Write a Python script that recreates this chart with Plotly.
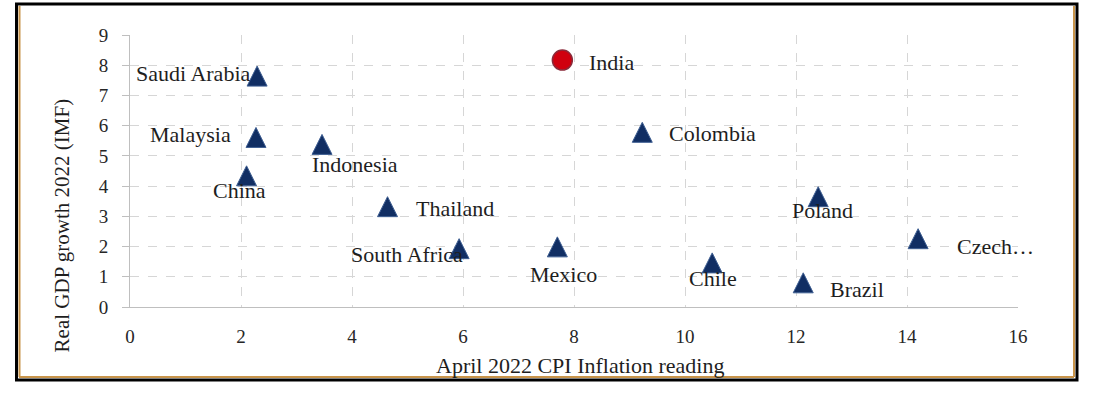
import plotly.graph_objects as go

countries = ["Saudi Arabia", "Malaysia", "Indonesia", "China", "Colombia", "Thailand",
             "Poland", "South Africa", "Mexico", "Czech…", "Chile", "Brazil"]
cpi = [2.29, 2.27, 3.46, 2.10, 9.23, 4.64, 12.40, 5.93, 7.70, 14.20, 10.49, 12.13]
gdp = [7.64, 5.61, 5.38, 4.34, 5.78, 3.32, 3.65, 1.93, 1.99, 2.26, 1.46, 0.80]

india_name = ["India"]
india_cpi = [7.79]
india_gdp = [8.17]

x_ticks = [0, 2, 4, 6, 8, 10, 12, 14, 16]
y_ticks = [0, 1, 2, 3, 4, 5, 6, 7, 8, 9]

FONT = "Liberation Serif, Times New Roman, serif"

# label placement (anchor, xshift, yshift) -- styling only
label_style = {
    "Saudi Arabia": ("right", -5, 3),
    "Malaysia": ("right", -23, 3),
    "Indonesia": ("left", -12, -20),
    "China": ("center", -7, -15),
    "India": ("left", 25, -2),
    "Colombia": ("left", 25, -1),
    "Thailand": ("left", 26, -2),
    "Poland": ("center", 4, -14),
    "South Africa": ("right", 6, -6),
    "Mexico": ("center", 6, -28),
    "Czech…": ("left", 37, -8),
    "Chile": ("center", 1, -16),
    "Brazil": ("left", 25, -7),
}

fig = go.Figure()
fig.add_trace(go.Scatter(
    x=cpi, y=gdp, mode="markers", hoverinfo="text", text=countries,
    marker=dict(symbol="arrow-down", angle=180, standoff=10, size=20,
                color="#112E63", line=dict(color="#3F5F92", width=1)),
    showlegend=False,
))
fig.add_trace(go.Scatter(
    x=india_cpi, y=india_gdp, mode="markers", hoverinfo="text", text=india_name,
    marker=dict(symbol="circle", size=20, color="#D0000F",
                line=dict(color="#8A2A3A", width=1.5)),
    showlegend=False,
))

annotations = []
for name, xv, yv in list(zip(countries, cpi, gdp)) + list(zip(india_name, india_cpi, india_gdp)):
    anc, dx, dy = label_style[name]
    annotations.append(dict(x=xv, y=yv, xref="x", yref="y", text=name, showarrow=False,
                            xanchor=anc, yanchor="middle", xshift=dx, yshift=dy,
                            font=dict(family=FONT, size=22, color="#1E1E1E")))

annotations.append(dict(x=0.507, y=0, xref="paper", yref="paper", yshift=-58,
                        text="April 2022 CPI Inflation reading", showarrow=False,
                        xanchor="center", yanchor="middle",
                        font=dict(family=FONT, size=22, color="#1E1E1E")))
annotations.append(dict(x=0, y=0.3, xref="paper", yref="paper", xshift=-68,
                        text="Real GDP growth 2022 (IMF)", showarrow=False, textangle=-90,
                        xanchor="center", yanchor="middle",
                        font=dict(family=FONT, size=21, color="#1E1E1E")))

W, H = 1093, 395
L, T = 130, 35
pw, ph = 888, 272
R, B = W - L - pw, H - T - ph

def px(x):
    return (x - L) / pw

def py(y):
    return 1 - (y - T) / ph

shapes = [
    dict(type="line", xref="paper", yref="paper", x0=px(19.5), x1=px(19.5), y0=py(6), y1=py(377),
         line=dict(color="#C8944A", width=2)),
    dict(type="line", xref="paper", yref="paper", x0=px(1074), x1=px(1074), y0=py(6), y1=py(377),
         line=dict(color="#C8944A", width=2)),
    dict(type="line", xref="paper", yref="paper", x0=px(19), x1=px(1074), y0=py(377), y1=py(377),
         line=dict(color="#C8944A", width=2)),
    dict(type="rect", xref="paper", yref="paper", x0=px(16.5), x1=px(1077), y0=py(4), y1=py(380),
         line=dict(color="#000000", width=3)),
]

fig.update_layout(
    width=W, height=H,
    margin=dict(l=L, r=R, t=T, b=B),
    paper_bgcolor="white", plot_bgcolor="white",
    annotations=annotations, shapes=shapes,
    xaxis=dict(range=[0, 16], tickvals=x_ticks, ticktext=[str(v) for v in x_ticks],
               showgrid=True, gridcolor="#D6D6D6", griddash="dash", gridwidth=1,
               showline=True, linecolor="#BFBFBF", linewidth=1, zeroline=False,
               ticks="", ticklabelstandoff=12,
               tickfont=dict(family=FONT, size=19, color="#262626")),
    yaxis=dict(range=[0, 9], tickvals=y_ticks, ticktext=[str(v) for v in y_ticks],
               showgrid=True, gridcolor="#D6D6D6", griddash="dash", gridwidth=1,
               showline=True, linecolor="#BFBFBF", linewidth=1, zeroline=False,
               ticks="outside", ticklen=7, tickcolor="#BFBFBF", ticklabelstandoff=10,
               tickfont=dict(family=FONT, size=19, color="#262626")),
)

fig.write_html("out.html", config={"displayModeBar": False},
               post_script="document.body.style.margin='0';document.body.style.overflow='hidden';")
